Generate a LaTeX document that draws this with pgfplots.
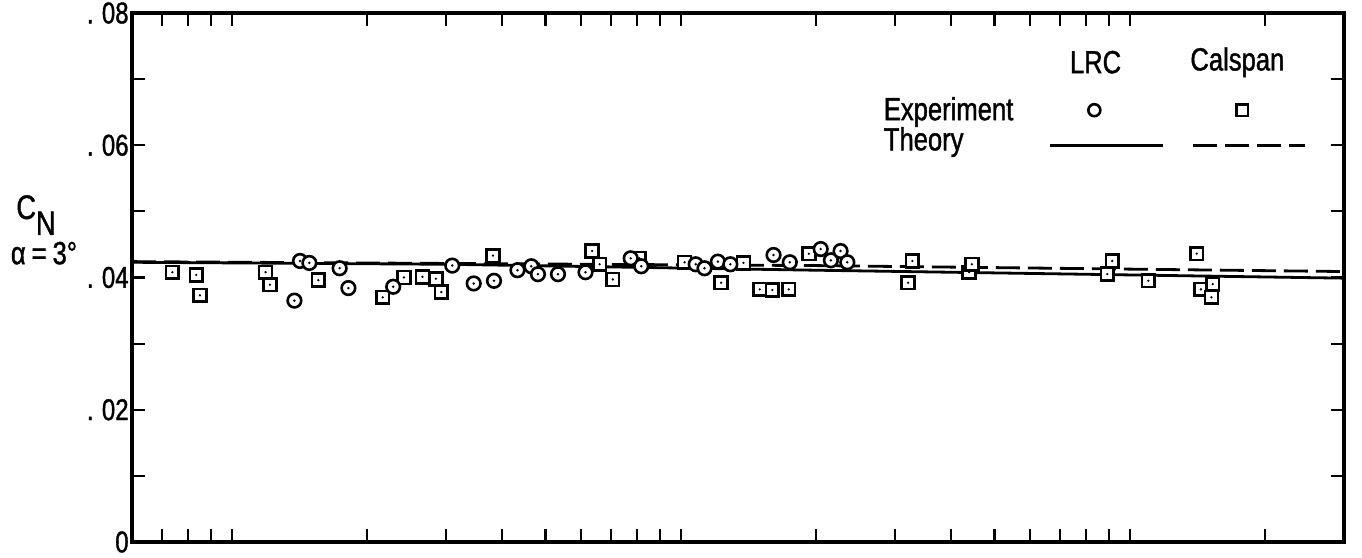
\documentclass[border=0pt]{standalone}
\usepackage{fontspec}
\setmainfont{Liberation Sans}[FakeStretch=0.8, FakeBold=1.2]
\usepackage{pgfplots}
\pgfplotsset{compat=1.18}

% open marks with a centre dot, as in the scanned figure
\pgfdeclareplotmark{odot}{%
  \pgfpathcircle{\pgfpointorigin}{\pgfplotmarksize}%
  \pgfusepathqfillstroke
  \begin{pgfscope}%
  \pgfsetfillcolor{black}%
  \pgfpathcircle{\pgfpointorigin}{0.2\pgfplotmarksize}%
  \pgfusepathqfill
  \end{pgfscope}}
\pgfdeclareplotmark{sdot}{%
  \pgfpathrectangle{\pgfpoint{-\pgfplotmarksize}{-\pgfplotmarksize}}%
    {\pgfpoint{2\pgfplotmarksize}{2\pgfplotmarksize}}%
  \pgfusepathqfillstroke
  \begin{pgfscope}%
  \pgfsetfillcolor{black}%
  \pgfpathcircle{\pgfpointorigin}{0.2\pgfplotmarksize}%
  \pgfusepathqfill
  \end{pgfscope}}

\begin{document}
\begin{tikzpicture}
\begin{axis}[
  name=ax,
  scale only axis, width=606pt, height=264.5pt,
  xmode=log, xmin=0.6, xmax=300,
  ymin=0, ymax=0.08,
  axis line style={line width=1.7pt},
  tick align=inside, tick pos=both,
  every tick/.style={black, line width=1.1pt},
  major tick length=6.5pt, minor tick length=6.5pt,
  xtick={0.7,0.8,0.9,1,2,3,4,5,6,7,8,9,10,20,30,40,50,60,70,80,90,100,200},
  xticklabels={}, minor xtick={},
  ytick={0,0.02,0.04,0.06,0.08},
  minor ytick={0.01,0.03,0.05,0.07},
  yticklabels={0,.\;02,.\;04,.\;06,.\;08},
  scaled y ticks=false,
  /pgf/number format/assume math mode=true,
  yticklabel style={font=\fontsize{15}{15}\selectfont, inner sep=1.5pt},
  clip=false,
]

% theory, LRC (solid) and Calspan (dashed)
\addplot[black, line width=1.4pt] coordinates {
  (0.6,0.0423) (3,0.0420) (20,0.0411) (300,0.0399)};
\addplot[black, line width=1.4pt, dash pattern=on 12pt off 4pt] coordinates {
  (0.6,0.0424) (20,0.0418) (300,0.0409)};

% experiment, Calspan
\addplot[only marks, mark=sdot, mark size=3.2pt,
  mark options={black, fill=white, line width=1.3pt}] coordinates {
  (0.738,0.0408) (0.834,0.0404) (0.850,0.0373) (1.19,0.0408) (1.217,0.0389)
  (1.56,0.0396) (2.17,0.0370) (2.42,0.0400) (2.66,0.0401) (2.85,0.0398)
  (2.93,0.0378) (3.82,0.0433) (6.35,0.0440) (6.6,0.0420) (7.06,0.0397)
  (8.09,0.0429) (10.2,0.0423) (12.3,0.0392) (13.8,0.0422) (15.0,0.0382)
  (16.0,0.0381) (17.4,0.0382) (19.3,0.0436) (32.1,0.0392) (32.8,0.0425)
  (43.9,0.0408) (44.5,0.0420) (89.1,0.0405) (91.4,0.0425) (110,0.0395)
  (141,0.0436) (144,0.0382) (153,0.0390) (152,0.0370)};

% experiment, LRC
\addplot[only marks, mark=odot, mark size=3.4pt,
  mark options={black, fill=white, line width=1.3pt}] coordinates {
  (1.38,0.0365) (1.42,0.0425) (1.49,0.0422) (1.74,0.0414) (1.82,0.0384)
  (2.29,0.0386) (3.10,0.0418) (3.46,0.0391) (3.84,0.0395) (4.33,0.0411)
  (4.65,0.0417) (4.81,0.0405) (5.33,0.0405) (6.14,0.0408) (7.74,0.0429)
  (8.17,0.0417) (10.8,0.0420) (11.3,0.0414) (12.1,0.0424) (12.9,0.0420)
  (16.1,0.0434) (17.5,0.0423) (20.5,0.0443) (21.6,0.0426) (22.7,0.0440)
  (23.5,0.0423)};

% key samples
\addplot[only marks, mark=o, mark size=3pt, mark options={black, line width=1.3pt}]
  coordinates {(83.4,0.0653)};
\addplot[only marks, mark=square, mark size=2.9pt, mark options={black, line width=1.3pt}]
  coordinates {(178,0.0653)};
\addplot[black, line width=1.4pt] coordinates {(66.5,0.0600) (118.8,0.0600)};
\addplot[black, line width=1.4pt, dash pattern=on 12pt off 4pt]
  coordinates {(138.5,0.0600) (245,0.0600)};

\node[font=\fontsize{16}{16}\selectfont] at (rel axis cs:0.795,0.907) {LRC};
\node[font=\fontsize{16}{16}\selectfont] at (rel axis cs:0.912,0.907) {Calspan};
\node[font=\fontsize{16}{16}\selectfont, anchor=west, inner sep=0pt]
  at (rel axis cs:0.620,0.813) {Experiment};
\node[font=\fontsize{16}{16}\selectfont, anchor=west, inner sep=0pt]
  at (rel axis cs:0.620,0.756) {Theory};

\node[font=\fontsize{17}{17}\selectfont] at (rel axis cs:0,0.618) [xshift=-48pt]
  {C\raisebox{-8pt}{N}};
\node[font=\fontsize{16}{16}\selectfont] at (rel axis cs:0,0.546) [xshift=-44pt]
  {α\hspace{3pt}=\hspace{3pt}3°};
\end{axis}
\pgfresetboundingbox
\path[use as bounding box] ([xshift=-66pt,yshift=-8pt]ax.south west)
  rectangle ([xshift=9pt,yshift=6.5pt]ax.north east);
\end{tikzpicture}
\end{document}
